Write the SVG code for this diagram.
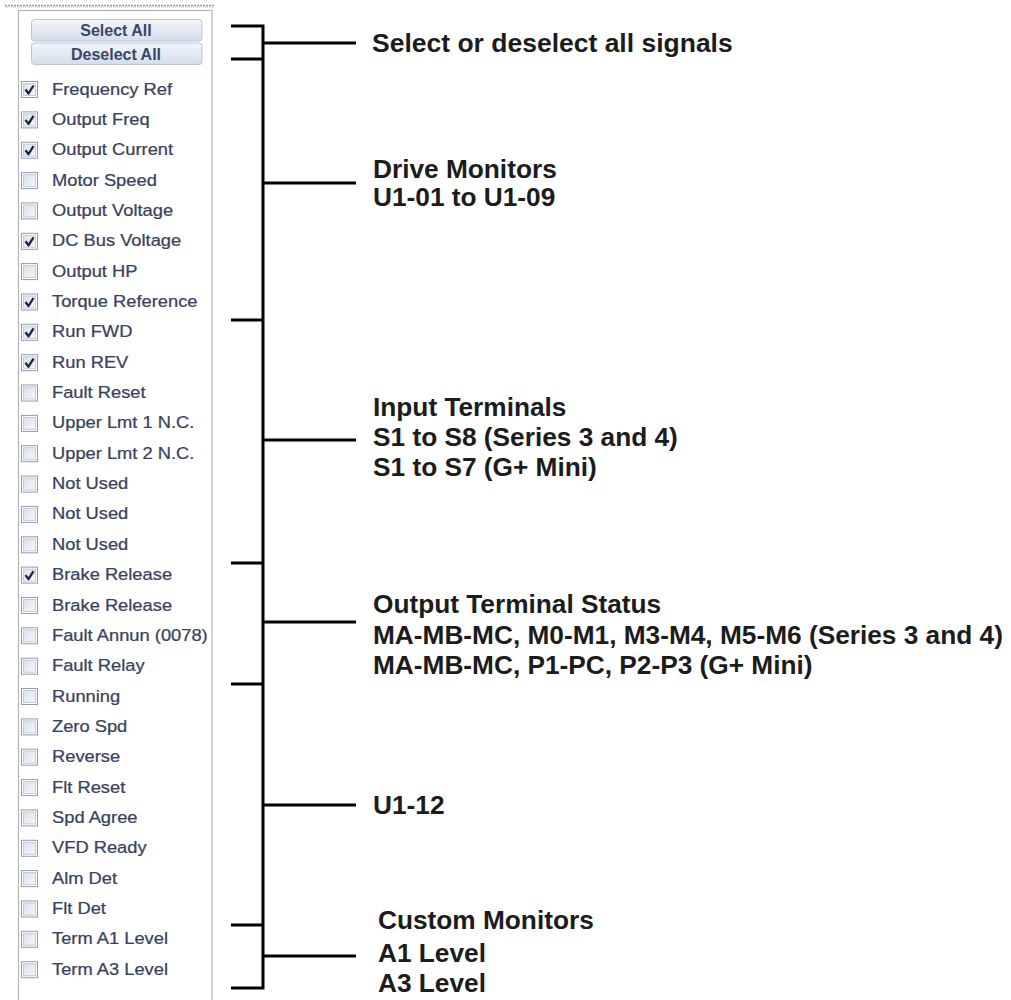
<svg xmlns="http://www.w3.org/2000/svg" xmlns:xlink="http://www.w3.org/1999/xlink" width="1011" height="1000" viewBox="0 0 1011 1000">
<style>
.lbl{font-family:"Liberation Sans",Arial,sans-serif;font-size:16.5px;fill:#38425e;stroke:#38425e;stroke-width:0.25}
.btn{font-family:"Liberation Sans",Arial,sans-serif;font-size:16px;font-weight:bold;fill:#3a4768}
.ann{font-family:"Liberation Sans",Arial,sans-serif;font-size:25px;font-weight:bold;fill:#1c1c1c}
.wire{stroke:#000;stroke-width:3;fill:none}
</style>
<defs>
<linearGradient id="gbtn" x1="0" y1="0" x2="0" y2="1">
<stop offset="0" stop-color="#f2f6fb"/>
<stop offset="1" stop-color="#d3deeb"/>
</linearGradient>
<linearGradient id="gcb" x1="0" y1="0" x2="1" y2="1">
<stop offset="0" stop-color="#d9e0ec"/>
<stop offset="1" stop-color="#f5f7fb"/>
</linearGradient>
<g id="cb">
<rect x="0.5" y="0.5" width="16" height="16" fill="#ffffff" stroke="#8e9cb2" stroke-width="1"/>
<rect x="2.5" y="2.5" width="12" height="12" fill="url(#gcb)" stroke="#c3cbd8" stroke-width="1"/>
</g>
<g id="cbc">
<use xlink:href="#cb"/>
<path d="M4.5,8.5 L7.5,12.5 L12.5,4.5" stroke="#1b2542" stroke-width="2.3" fill="none" stroke-linejoin="round"/>
</g>
</defs>
<rect width="1011" height="1000" fill="#ffffff"/>

<g id="panel">
<line x1="5" y1="5.5" x2="215" y2="5.5" stroke="#9a9a9a" stroke-width="1.5" stroke-dasharray="2 1"/>
<line x1="5" y1="7" x2="215" y2="7" stroke="#b4b4b4" stroke-width="1" stroke-dasharray="1 1"/>
<rect x="18.5" y="10.5" width="193.5" height="1010" fill="#ffffff" stroke="#b4b4b4" stroke-width="1.2"/>
</g>

<g id="btn-select">
<rect x="31.5" y="19.5" width="170.5" height="21.5" rx="3" fill="url(#gbtn)" stroke="#b9c6d8"/>
<text class="btn" x="116" y="36" text-anchor="middle">Select All</text>
</g>
<g id="btn-deselect">
<rect x="31.5" y="43" width="170.5" height="21.5" rx="3" fill="url(#gbtn)" stroke="#b9c6d8"/>
<text class="btn" x="116" y="59.5" text-anchor="middle">Deselect All</text>
</g>

<g id="signals">
<g id="s0"><use xlink:href="#cbc" x="21" y="81"/><text class="lbl" transform="translate(52,94.5) scale(1.11,1)">Frequency Ref</text></g>
<g id="s1"><use xlink:href="#cbc" x="21" y="111.4"/><text class="lbl" transform="translate(52,124.9) scale(1.11,1)">Output Freq</text></g>
<g id="s2"><use xlink:href="#cbc" x="21" y="141.7"/><text class="lbl" transform="translate(52,155.2) scale(1.11,1)">Output Current</text></g>
<g id="s3"><use xlink:href="#cb" x="21" y="172.1"/><text class="lbl" transform="translate(52,185.6) scale(1.11,1)">Motor Speed</text></g>
<g id="s4"><use xlink:href="#cb" x="21" y="202.4"/><text class="lbl" transform="translate(52,215.9) scale(1.11,1)">Output Voltage</text></g>
<g id="s5"><use xlink:href="#cbc" x="21" y="232.8"/><text class="lbl" transform="translate(52,246.3) scale(1.11,1)">DC Bus Voltage</text></g>
<g id="s6"><use xlink:href="#cb" x="21" y="263.1"/><text class="lbl" transform="translate(52,276.6) scale(1.11,1)">Output HP</text></g>
<g id="s7"><use xlink:href="#cbc" x="21" y="293.5"/><text class="lbl" transform="translate(52,307) scale(1.11,1)">Torque Reference</text></g>
<g id="s8"><use xlink:href="#cbc" x="21" y="323.8"/><text class="lbl" transform="translate(52,337.3) scale(1.11,1)">Run FWD</text></g>
<g id="s9"><use xlink:href="#cbc" x="21" y="354.2"/><text class="lbl" transform="translate(52,367.7) scale(1.11,1)">Run REV</text></g>
<g id="s10"><use xlink:href="#cb" x="21" y="384.5"/><text class="lbl" transform="translate(52,398) scale(1.11,1)">Fault Reset</text></g>
<g id="s11"><use xlink:href="#cb" x="21" y="414.9"/><text class="lbl" transform="translate(52,428.4) scale(1.11,1)">Upper Lmt 1 N.C.</text></g>
<g id="s12"><use xlink:href="#cb" x="21" y="445.2"/><text class="lbl" transform="translate(52,458.7) scale(1.11,1)">Upper Lmt 2 N.C.</text></g>
<g id="s13"><use xlink:href="#cb" x="21" y="475.6"/><text class="lbl" transform="translate(52,489.1) scale(1.11,1)">Not Used</text></g>
<g id="s14"><use xlink:href="#cb" x="21" y="505.9"/><text class="lbl" transform="translate(52,519.4) scale(1.11,1)">Not Used</text></g>
<g id="s15"><use xlink:href="#cb" x="21" y="536.3"/><text class="lbl" transform="translate(52,549.8) scale(1.11,1)">Not Used</text></g>
<g id="s16"><use xlink:href="#cbc" x="21" y="566.6"/><text class="lbl" transform="translate(52,580.1) scale(1.11,1)">Brake Release</text></g>
<g id="s17"><use xlink:href="#cb" x="21" y="597"/><text class="lbl" transform="translate(52,610.5) scale(1.11,1)">Brake Release</text></g>
<g id="s18"><use xlink:href="#cb" x="21" y="627.3"/><text class="lbl" transform="translate(52,640.8) scale(1.11,1)">Fault Annun (0078)</text></g>
<g id="s19"><use xlink:href="#cb" x="21" y="657.7"/><text class="lbl" transform="translate(52,671.2) scale(1.11,1)">Fault Relay</text></g>
<g id="s20"><use xlink:href="#cb" x="21" y="688"/><text class="lbl" transform="translate(52,701.5) scale(1.11,1)">Running</text></g>
<g id="s21"><use xlink:href="#cb" x="21" y="718.4"/><text class="lbl" transform="translate(52,731.9) scale(1.11,1)">Zero Spd</text></g>
<g id="s22"><use xlink:href="#cb" x="21" y="748.7"/><text class="lbl" transform="translate(52,762.2) scale(1.11,1)">Reverse</text></g>
<g id="s23"><use xlink:href="#cb" x="21" y="779.1"/><text class="lbl" transform="translate(52,792.6) scale(1.11,1)">Flt Reset</text></g>
<g id="s24"><use xlink:href="#cb" x="21" y="809.4"/><text class="lbl" transform="translate(52,822.9) scale(1.11,1)">Spd Agree</text></g>
<g id="s25"><use xlink:href="#cb" x="21" y="839.8"/><text class="lbl" transform="translate(52,853.3) scale(1.11,1)">VFD Ready</text></g>
<g id="s26"><use xlink:href="#cb" x="21" y="870.1"/><text class="lbl" transform="translate(52,883.6) scale(1.11,1)">Alm Det</text></g>
<g id="s27"><use xlink:href="#cb" x="21" y="900.5"/><text class="lbl" transform="translate(52,914) scale(1.11,1)">Flt Det</text></g>
<g id="s28"><use xlink:href="#cb" x="21" y="930.8"/><text class="lbl" transform="translate(52,944.3) scale(1.11,1)">Term A1 Level</text></g>
<g id="s29"><use xlink:href="#cb" x="21" y="961.2"/><text class="lbl" transform="translate(52,974.7) scale(1.11,1)">Term A3 Level</text></g>
</g>

<g id="connectors">
<path class="wire" d="M231,26 H263 V988 H231"/>
<path class="wire" d="M231,59 H263 M231,320 H263 M231,563 H263 M231,684 H263 M231,925 H263"/>
<path class="wire" d="M263,43 H356 M263,183 H356 M263,440 H356 M263,622 H356 M263,805 H356 M263,956 H356"/>
</g>

<g id="note-select">
<text class="ann" transform="translate(372,52) scale(1.06,1)">Select or deselect all signals</text>
</g>
<g id="note-drive">
<text class="ann" transform="translate(373,178) scale(1.05,1)">Drive Monitors</text>
<text class="ann" transform="translate(373,206) scale(1.05,1)">U1-01 to U1-09</text>
</g>
<g id="note-input">
<text class="ann" transform="translate(373,416) scale(1.05,1)">Input Terminals</text>
<text class="ann" transform="translate(373,446) scale(1.05,1)">S1 to S8 (Series 3 and 4)</text>
<text class="ann" transform="translate(373,476) scale(1.05,1)">S1 to S7 (G+ Mini)</text>
</g>
<g id="note-output">
<text class="ann" transform="translate(373,613) scale(1.05,1)">Output Terminal Status</text>
<text class="ann" transform="translate(373,644) scale(1.05,1)">MA-MB-MC, M0-M1, M3-M4, M5-M6 (Series 3 and 4)</text>
<text class="ann" transform="translate(373,674) scale(1.05,1)">MA-MB-MC, P1-PC, P2-P3 (G+ Mini)</text>
</g>
<g id="note-u112">
<text class="ann" transform="translate(373,814) scale(1.05,1)">U1-12</text>
</g>
<g id="note-custom">
<text class="ann" transform="translate(378,929) scale(1.05,1)">Custom Monitors</text>
<text class="ann" transform="translate(378,962) scale(1.05,1)">A1 Level</text>
<text class="ann" transform="translate(378,992) scale(1.05,1)">A3 Level</text>
</g>
</svg>
